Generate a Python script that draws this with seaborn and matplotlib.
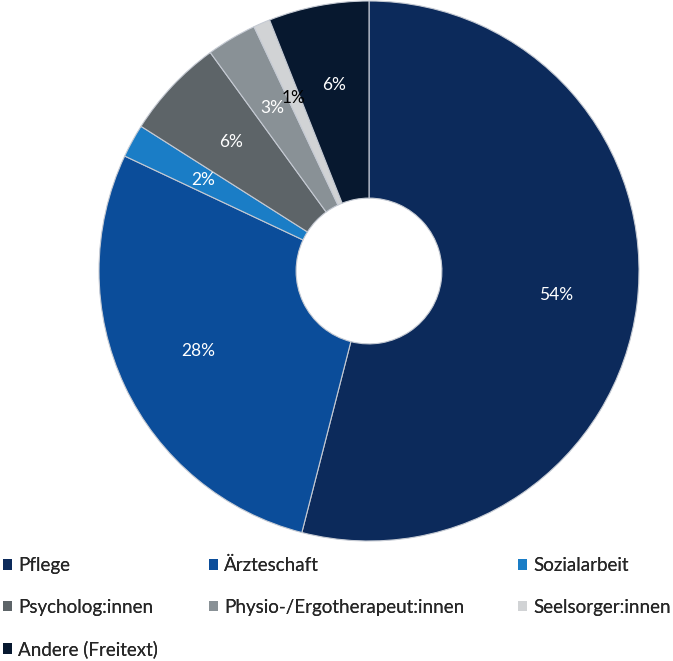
import numpy as np
import pandas as pd
import seaborn as sns
import matplotlib.pyplot as plt
from matplotlib.patches import Patch

# Daten
kategorien = ["Pflege", "Ärzteschaft", "Sozialarbeit", "Psycholog:innen",
              "Physio-/Ergotherapeut:innen", "Seelsorger:innen", "Andere (Freitext)"]
anteile = [54, 28, 2, 6, 3, 1, 6]
farben = ["#0c2a5b", "#0b4d9a", "#1a7dc6", "#5d6468", "#899196", "#d1d3d5", "#07182f"]
label_farben = ["white", "white", "white", "white", "white", "black", "white"]

df = pd.DataFrame({"kategorie": kategorien, "anteil": anteile, "farbe": farben})

sns.set_theme(style="white")
plt.rcParams['font.family'] = ['Lato', 'DejaVu Sans']

fig = plt.figure(figsize=(6.73, 6.61), dpi=100)
W, H = 673, 661
cx, cy, r = 369, 271, 270
ax = fig.add_axes([(cx - r) / W, (H - cy - r) / H, 2 * r / W, 2 * r / H])

wedges, texts, autotexts = ax.pie(
    df["anteil"], colors=df["farbe"], startangle=90, counterclock=False,
    radius=1.0, autopct='%1.0f%%', pctdistance=0.70,
    wedgeprops=dict(width=0.73, edgecolor='#c5cad3', linewidth=0.8),
    textprops=dict(fontsize=12.5))
for t, c in zip(autotexts, label_farben):
    t.set_color(c)
ax.set_xlim(-1, 1)
ax.set_ylim(-1, 1)
ax.set_aspect('equal')
ax.axis('off')

# Legende in drei Spalten
spalten = [[0, 3, 6], [1, 4], [2, 5]]
x_pos = [3, 209, 518]
for xs, idx in zip(x_pos, spalten):
    handles = [Patch(facecolor=farben[i], edgecolor='none', label=kategorien[i]) for i in idx]
    leg = fig.legend(handles=handles, loc='upper left',
                     bbox_to_anchor=(xs / W, 1 - 557 / H), frameon=False,
                     fontsize=13.5, handlelength=0.48, handleheight=0.48,
                     handletextpad=0.32, labelspacing=1.31, borderaxespad=0,
                     borderpad=0)
    fig.add_artist(leg)

fig.savefig("out.png", dpi=100)
